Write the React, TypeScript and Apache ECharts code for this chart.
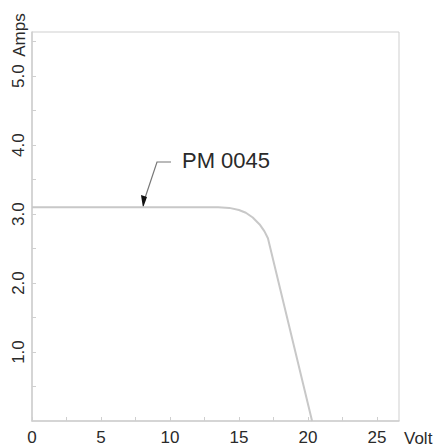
import React, { useEffect, useRef } from "react";
import * as echarts from "echarts";

const volts = [0, 4, 8, 12, 13.5, 14.3, 15.0, 15.5, 16.0, 16.5, 16.85, 17.1, 20.3];
const amps = [3.1, 3.1, 3.1, 3.1, 3.1, 3.09, 3.06, 3.02, 2.95, 2.85, 2.75, 2.65, 0];
const xTickLabels = ["0", "5", "10", "15", "20", "25"];
const yTickLabels = ["1.0", "2.0", "3.0", "4.0", "5.0"];
const seriesName = "PM 0045";

const FONT = "'Liberation Sans', Arial, Helvetica, sans-serif";
const TXT = "#2a2a2a";
const AX = "#cfcfcf";

export default function App() {
  const ref = useRef<HTMLDivElement>(null);
  useEffect(() => {
    if (!ref.current) return;
    const chart = echarts.init(ref.current, undefined, { renderer: "svg" });
    const data = volts.map((v, i) => [v, amps[i]]);
    chart.setOption({
      animation: false,
      backgroundColor: "#ffffff",
      grid: {
        left: 32,
        top: 32,
        right: 36,
        bottom: 26,
        show: true,
        borderColor: AX,
        borderWidth: 1,
      },
      xAxis: {
        type: "value",
        min: 0,
        max: 26.6,
        interval: 2.5,
        splitLine: { show: false },
        axisLine: { lineStyle: { color: AX, width: 1.5 } },
        axisTick: { inside: true, length: 4, lineStyle: { color: AX } },
        axisLabel: {
          showMaxLabel: false,
          margin: 8,
          color: TXT,
          fontSize: 17,
          fontFamily: FONT,
          formatter: (v: number) => {
            const s = String(v);
            return xTickLabels.includes(s) ? s : "";
          },
        },
      },
      yAxis: {
        type: "value",
        min: 0,
        max: 5.64,
        interval: 0.5,
        splitLine: { show: false },
        axisLine: { lineStyle: { color: AX, width: 1.5 } },
        axisTick: { inside: true, length: 4, lineStyle: { color: AX } },
        axisLabel: {
          showMaxLabel: false,
          showMinLabel: false,
          rotate: 90,
          margin: 5,
          color: TXT,
          fontSize: 17,
          fontFamily: FONT,
          formatter: (v: number) => {
            const s = v.toFixed(1);
            return yTickLabels.includes(s) ? s : "";
          },
        },
      },
      series: [
        {
          name: seriesName,
          type: "line",
          data,
          showSymbol: false,
          smooth: false,
          lineStyle: { color: "#c8c8c8", width: 2 },
        },
      ],
      graphic: [
        {
          type: "text",
          x: 19,
          y: 35,
          rotation: Math.PI / 2,
          style: {
            text: "Amps",
            align: "center",
            verticalAlign: "middle",
            fill: TXT,
            font: `17px ${FONT}`,
          },
        },
        {
          type: "text",
          x: 404,
          y: 438,
          style: {
            text: "Volt",
            align: "left",
            verticalAlign: "middle",
            fill: TXT,
            font: `17px ${FONT}`,
          },
        },
        {
          type: "text",
          x: 182,
          y: 160,
          style: {
            text: seriesName,
            align: "left",
            verticalAlign: "middle",
            fill: TXT,
            font: `22px ${FONT}`,
          },
        },
        {
          type: "polyline",
          shape: { points: [[171, 162], [157, 162], [145, 198]] },
          style: { stroke: "#777", lineWidth: 1.2, fill: null },
        },
        {
          type: "polygon",
          shape: { points: [[143, 208], [141, 195], [147, 197]] },
          style: { fill: "#111" },
        },
      ],
    });
    return () => chart.dispose();
  }, []);
  return (
    <div
      ref={ref}
      style={{ position: "fixed", left: 0, top: 0, width: 435, height: 447 }}
    />
  );
}
